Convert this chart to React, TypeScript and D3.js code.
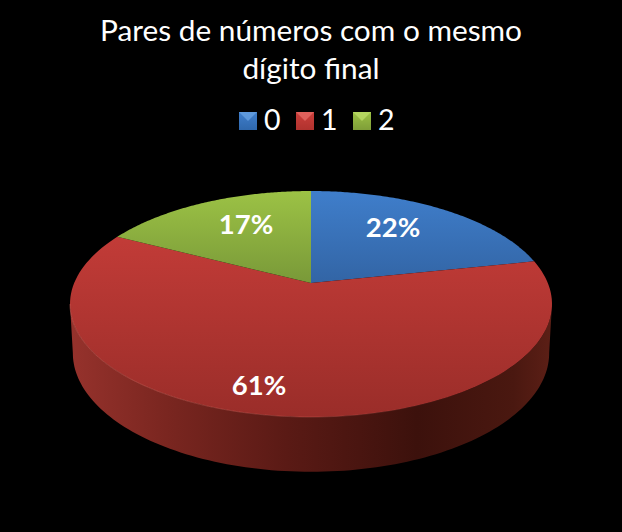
import React from "react";
import * as d3 from "d3";

const categories = ["0", "1", "2"];
const shares = [21.7, 60.9, 17.4];
const titleLines = ["Pares de números com o mesmo", "dígito final"];
const topColors = ["#3f7ecb", "#cc3f3b", "#9cc245"];
const bottomColors = ["#3264a4", "#9a2d29", "#789838"];
const legendTop = ["#6aa3e2", "#e66e68", "#bcdc68"];
const legendBottom = ["#2f68ad", "#b0322e", "#7f9e38"];

const width = 622;
const height = 532;
const font = "Lato, 'Open Sans', sans-serif";

// perspective projection of the disc, angle 0 = far side, clockwise
const persp = 0.186;
const project = (a: number, cy: number, rx: number, ry: number): [number, number] => {
  const w = 1 + persp * Math.cos(a);
  return [311 + (rx * Math.sin(a)) / w, cy - (ry * Math.cos(a)) / w];
};
const topFace = (a: number) => project(a, 283, 236.8, 109.1);
const baseFace = (a: number) => project(a, 331, 234, 114.6);

const line = d3.line();
const sample = (a0: number, a1: number) => d3.range(0, 121).map((i) => a0 + ((a1 - a0) * i) / 120);

const App: React.FC = () => {
  const pie = d3.pie<number>().sort(null);
  const slices = pie(shares);
  const total = d3.sum(shares);
  const fmt = d3.format(".0%");

  const silhouette = Math.acos(-persp);
  const wallAngles = sample(silhouette, 2 * Math.PI - silhouette);
  const wallPath =
    line([...wallAngles.map(topFace), ...wallAngles.slice().reverse().map(baseFace)]) + "Z";
  const lipPath = line(wallAngles.map(topFace)) as string;

  const legendX = d3.scalePoint<string>().domain(categories).range([239, 353]);

  const labelPos: [number, number][] = [
    [393, 227],
    [259, 385],
    [246, 224],
  ];

  return (
    <svg
      width={width}
      height={height}
      style={{ position: "absolute", left: 0, top: 0, background: "#000" }}
      fontFamily={font}
    >
      <defs>
        {categories.map((c, i) => (
          <linearGradient key={c} id={`face${i}`} gradientUnits="userSpaceOnUse" x1={0} y1={191} x2={0} y2={i === 1 ? 417 : 285}>
            <stop offset="0" stopColor={topColors[i]} />
            <stop offset="1" stopColor={bottomColors[i]} />
          </linearGradient>
        ))}
        {categories.map((c, i) => (
          <linearGradient key={c} id={`key${i}`} x1="0" y1="0" x2="0" y2="1">
            <stop offset="0" stopColor={topColors[i]} />
            <stop offset="1" stopColor={legendBottom[i]} />
          </linearGradient>
        ))}
        <linearGradient id="wall" gradientUnits="userSpaceOnUse" x1={70} y1={0} x2={552} y2={0}>
          <stop offset="0" stopColor="#96322c" />
          <stop offset="0.2" stopColor="#7a2620" />
          <stop offset="0.45" stopColor="#5a1a15" />
          <stop offset="0.72" stopColor="#3c110c" />
          <stop offset="0.92" stopColor="#4a1810" />
          <stop offset="1" stopColor="#5c1f16" />
        </linearGradient>
        <linearGradient id="lip" gradientUnits="userSpaceOnUse" x1={70} y1={0} x2={552} y2={0}>
          <stop offset="0" stopColor="#d9685f" stopOpacity={0.6} />
          <stop offset="0.5" stopColor="#d9685f" stopOpacity={0.4} />
          <stop offset="0.8" stopColor="#d9685f" stopOpacity={0} />
        </linearGradient>
      </defs>

      {titleLines.map((t, i) => (
        <text key={t} x={311} y={41 + i * 38} textAnchor="middle" fill="#fff" fontSize={29.8}>
          {t}
        </text>
      ))}

      {categories.map((c, i) => (
        <g key={c} transform={`translate(${legendX(c)},112)`}>
          <rect width={18} height={18} fill={`url(#key${i})`} />
          <path d="M0,0H18L9,9Z" fill={legendTop[i]} fillOpacity={0.75} />
          <text x={25} y={18} fill="#fff" fontSize={28.5}>
            {c}
          </text>
        </g>
      ))}

      <path d={wallPath} fill="url(#wall)" />
      {slices.map((s, i) => (
        <path
          key={categories[i]}
          d={line(sample(s.startAngle, s.endAngle).map(topFace)) + "L311,283Z"}
          fill={`url(#face${i})`}
        />
      ))}
      <path d={lipPath} fill="none" stroke="url(#lip)" strokeWidth={0.8} />

      {slices.map((s, i) => (
        <text
          key={categories[i]}
          x={labelPos[i][0]}
          y={labelPos[i][1] + 10}
          textAnchor="middle"
          fill="#fff"
          fontSize={27.5}
          fontWeight={700}
        >
          {fmt(s.data / total)}
        </text>
      ))}
    </svg>
  );
};

export default App;
